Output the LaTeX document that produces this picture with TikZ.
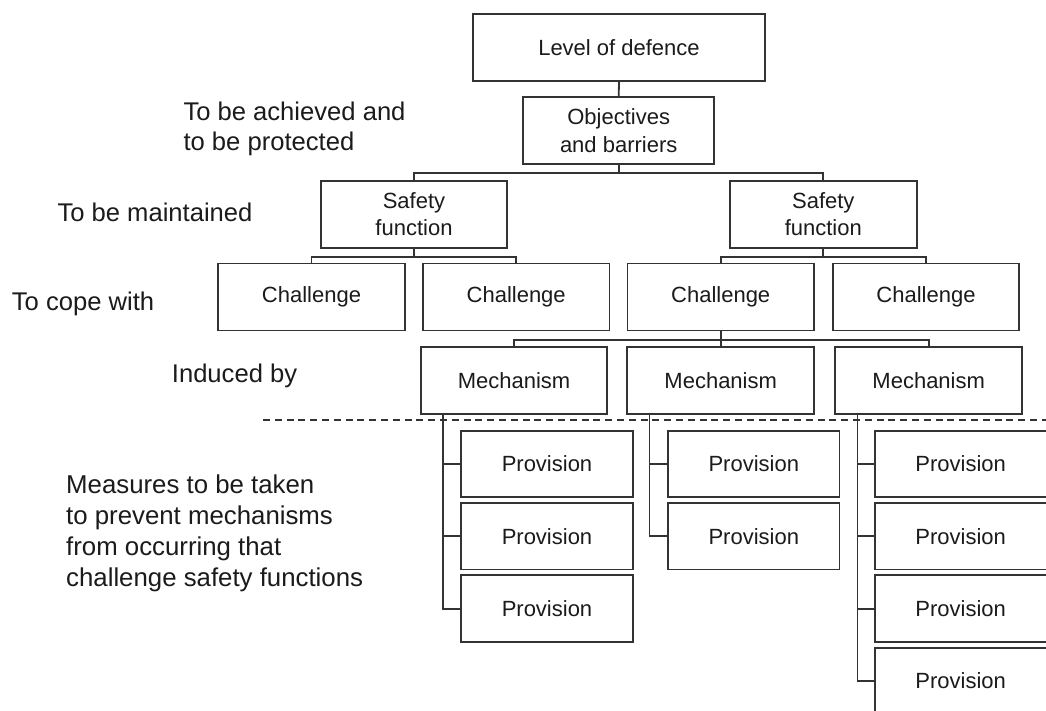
\documentclass[tikz,border=0pt]{standalone}
\usepackage{fontspec}
\setmainfont{Liberation Sans}
\usetikzlibrary{calc}
\definecolor{ln}{HTML}{333333}
\definecolor{tx}{HTML}{1C1A1B}
\begin{document}
\begin{tikzpicture}[x=1pt,y=-1pt,
  box/.style={draw=ln,line width=1.8pt,rectangle,inner sep=0pt,minimum height=67pt,text=tx,font=\fontsize{22}{27.5}\selectfont,align=center},
  prov/.style={box,minimum width=171.4pt,minimum height=66.7pt},
  lbl/.style={inner sep=0pt,text=tx,font=\fontsize{25.6}{30.3}\selectfont,align=left},
  wire/.style={draw=ln,line width=1.8pt}]
\clip (0,0) rectangle (1046,711);
\fill[white] (0,0) rectangle (1046,711);
% boxes
\node[box,minimum width=292pt] (lod) at (619,47.5) {Level of defence};
\node[box,minimum width=190.7pt] (obj) at (618.7,130.7) {Objectives\\and barriers};
\node[box,minimum width=186.7pt] (sf1) at (414,214.2) {Safety\\function};
\node[box,minimum width=186.7pt] (sf2) at (823.3,214.2) {Safety\\function};
\node[box,minimum width=186.5pt] (ch1) at (311.5,297) {Challenge};
\node[box,minimum width=186.5pt] (ch2) at (516.2,297) {Challenge};
\node[box,minimum width=186.5pt] (ch3) at (720.7,297) {Challenge};
\node[box,minimum width=186.5pt] (ch4) at (926,297) {Challenge};
\node[box,minimum width=186.7pt] (m1) at (514,380.5) {Mechanism};
\node[box,minimum width=186.7pt] (m2) at (720.7,380.5) {Mechanism};
\node[box,minimum width=186.7pt] (m3) at (928.7,380.5) {Mechanism};
\node[prov] (p11) at (547,464) {Provision};
\node[prov] (p12) at (547,536.2) {Provision};
\node[prov] (p13) at (547,608.7) {Provision};
\node[prov] (p21) at (753.8,464) {Provision};
\node[prov] (p22) at (753.8,536.2) {Provision};
\node[prov] (p31) at (960.7,464) {Provision};
\node[prov] (p32) at (960.7,536.2) {Provision};
\node[prov] (p33) at (960.7,608.7) {Provision};
\node[prov] (p34) at (960.7,681) {Provision};
% connectors
\draw[wire] (lod.south) -- (obj.north);
\coordinate (j1) at ($(obj.south)+(0,8.3)$);
\draw[wire] (obj.south) -- (j1) -| (sf1.north);
\draw[wire] (j1) -| (sf2.north);
\coordinate (j2) at ($(sf1.south)+(0,8.3)$);
\draw[wire] (sf1.south) -- (j2) -| (ch1.north);
\draw[wire] (j2) -| (ch2.north);
\coordinate (j3) at ($(sf2.south)+(0,8.3)$);
\draw[wire] (sf2.south) -- (j3) -| (ch3.north);
\draw[wire] (j3) -| (ch4.north);
\coordinate (j4) at ($(ch3.south)+(0,8.3)$);
\draw[wire] (ch3.south) -- (m2.north);
\draw[wire] (j4) -| (m1.north);
\draw[wire] (j4) -| (m3.north);
\coordinate (t1) at ($(m1.south west)+(23,0)$);
\coordinate (t2) at ($(m2.south west)+(23,0)$);
\coordinate (t3) at ($(m3.south west)+(23,0)$);
\foreach \k in {1,2,3} {\draw[wire] (t1) |- (p1\k.west);}
\foreach \k in {1,2} {\draw[wire] (t2) |- (p2\k.west);}
\foreach \k in {1,2,3,4} {\draw[wire] (t3) |- (p3\k.west);}
% dashed divider
\coordinate (dl) at (263,420.3);
\coordinate (dr) at (1046,420.3);
\draw[draw=ln,line width=2pt,dash pattern=on 7pt off 4.8pt] (dl) -- (dr);
% labels
\node[lbl,anchor=north west] (l1) at (183.3,101.5) {To be achieved and\\to be protected};
\node[lbl,anchor=base west] (l2) at (57.3,221.7) {To be maintained};
\node[lbl,anchor=base west] (l3) at (11.7,310.7) {To cope with};
\node[lbl,anchor=base west] (l4) at (171.7,382.8) {Induced by};
\node[lbl,anchor=north west,font=\fontsize{25.8}{31}\selectfont] (l5) at (66,474.2) {Measures to be taken\\to prevent mechanisms\\from occurring that\\challenge safety functions};
\end{tikzpicture}
\end{document}
